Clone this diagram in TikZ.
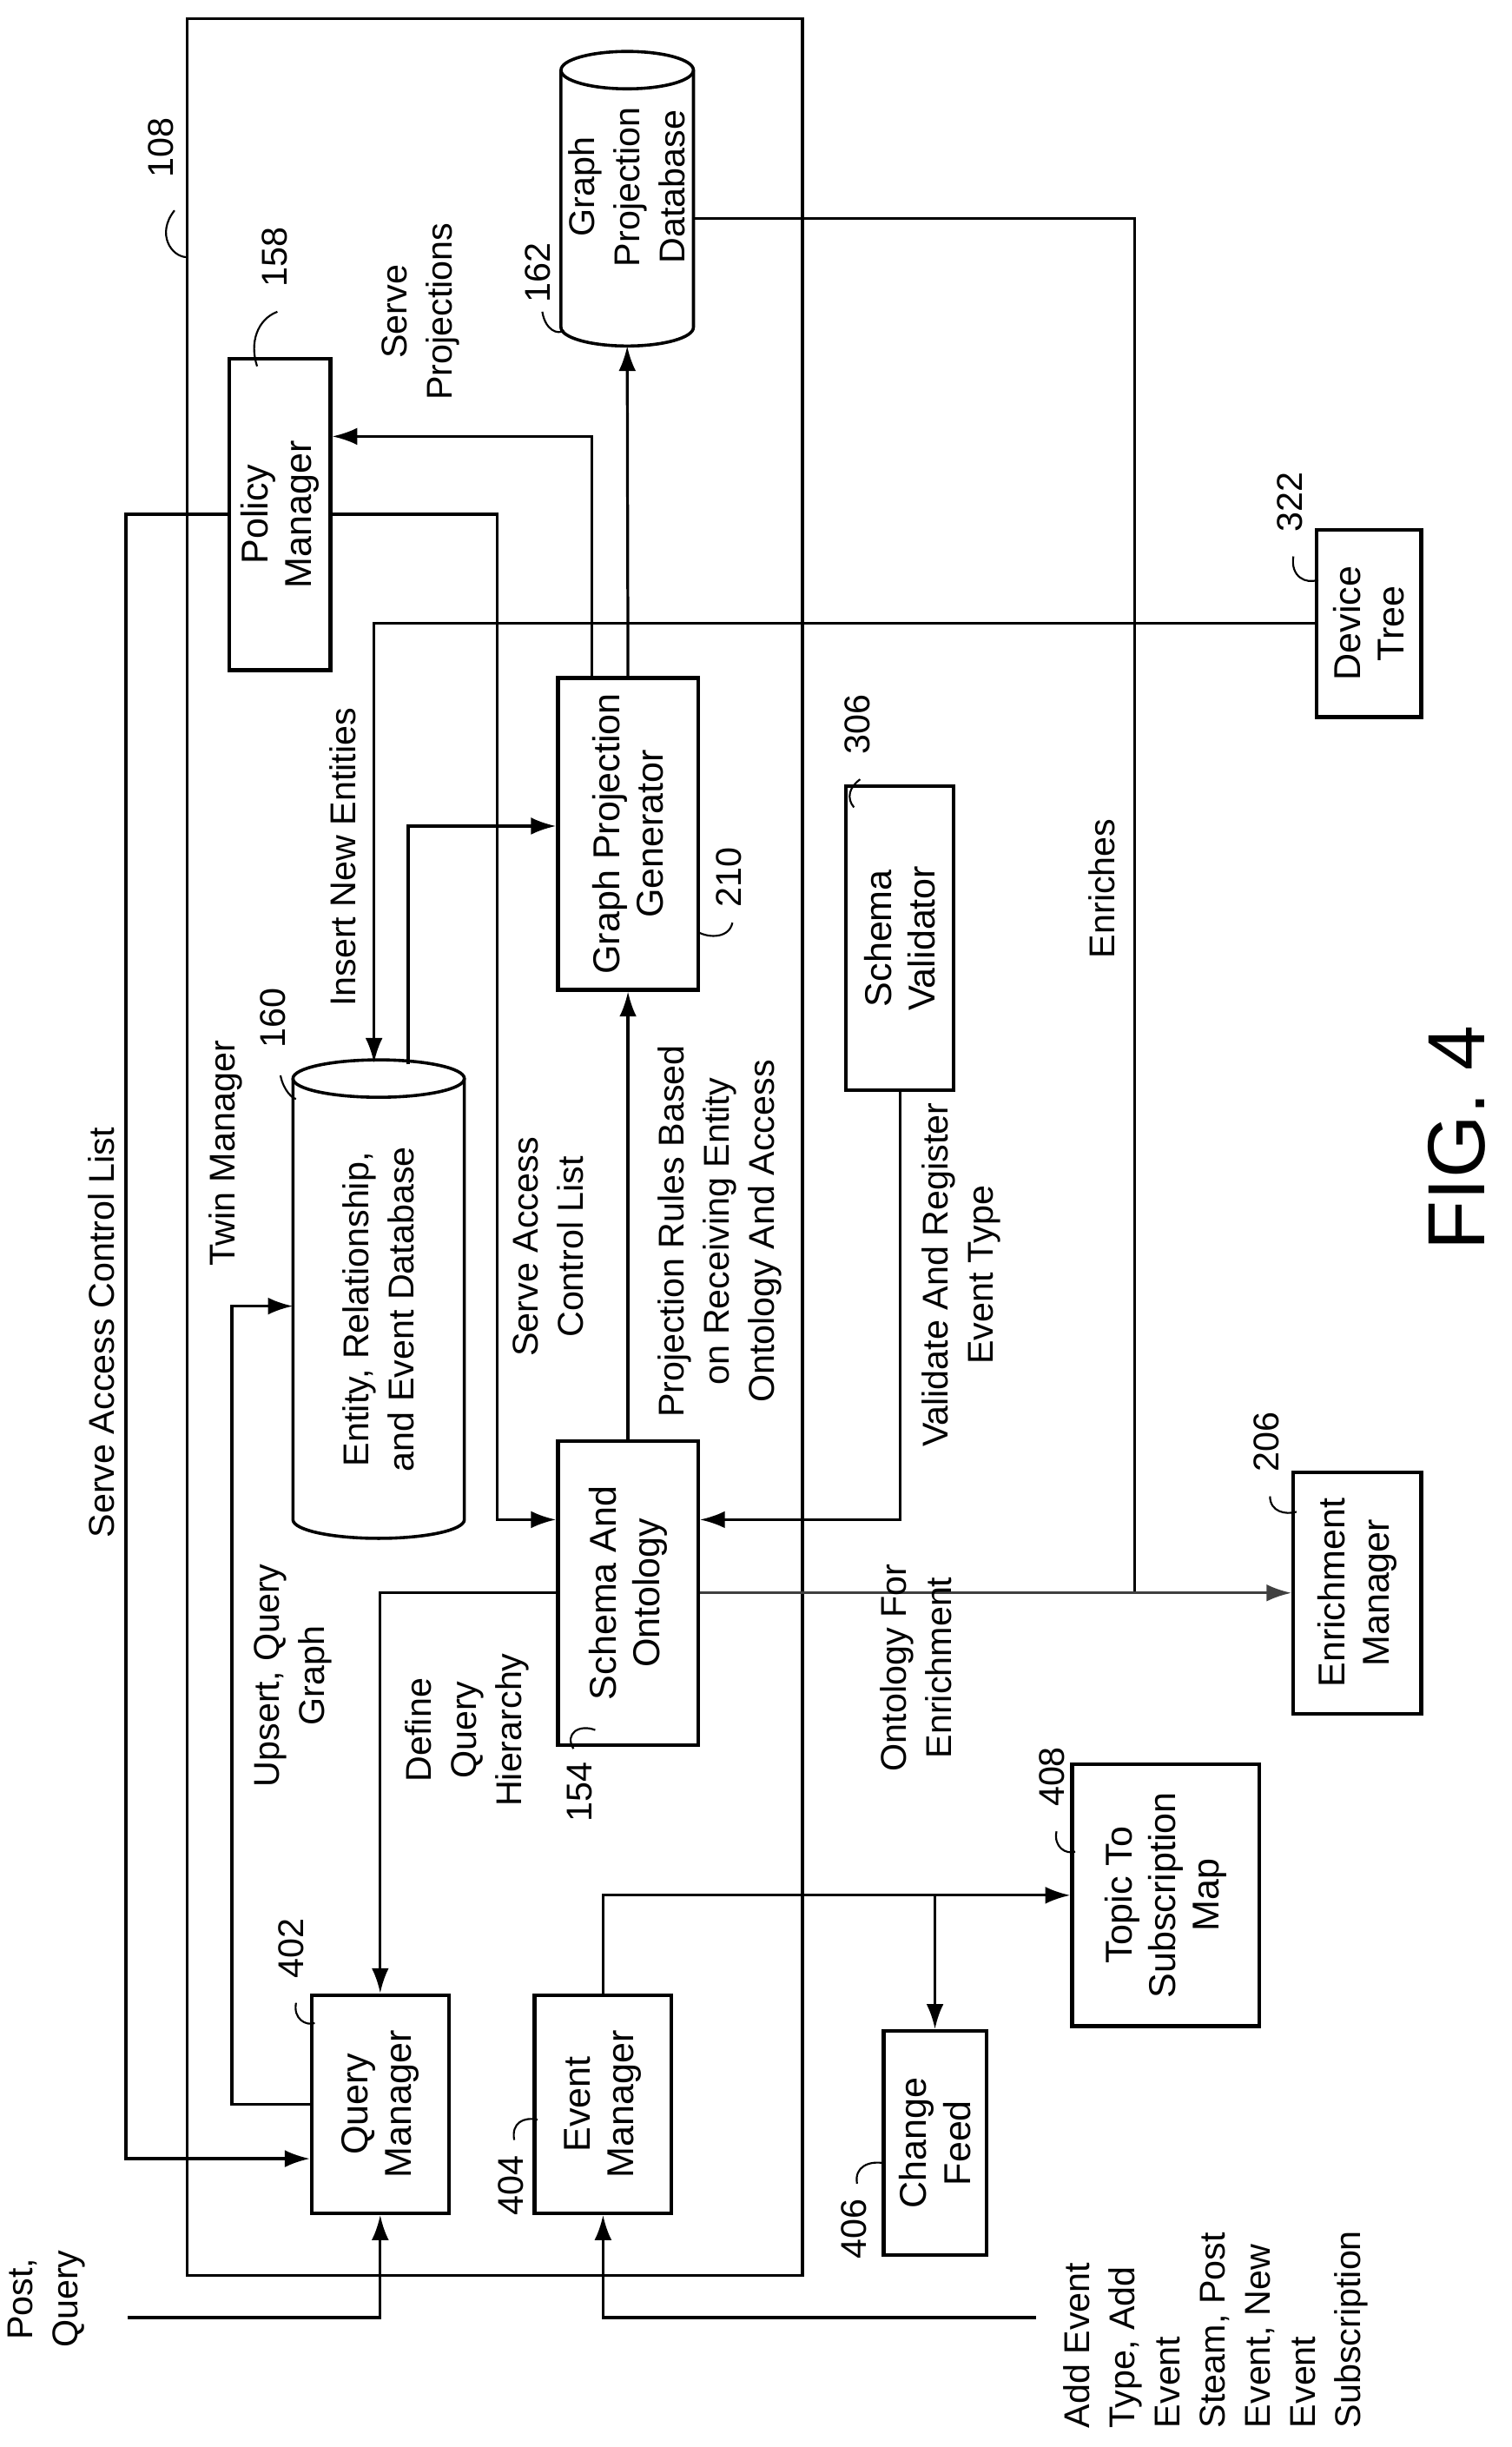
\documentclass[tikz,border=0pt]{standalone}
\usepackage{fontspec}
\setmainfont{Liberation Sans}
\usetikzlibrary{calc,arrows.meta}
\begin{document}
\begin{tikzpicture}[x=1pt,y=-1pt,
  box/.style={draw,line width=2.4pt,rotate=90,align=center,inner sep=0pt,font=\fontsize{24}{28}\selectfont},
  arr/.style={line width=1.8pt,-{Latex[length=16pt,width=11pt]}},
  ln/.style={line width=1.8pt},
  lbl/.style={rotate=90,align=center,font=\fontsize{23}{29}\selectfont,inner sep=0pt},
  sq/.style={line width=1.2pt}]
\useasboundingbox (0,0) rectangle (970,1570);
% outer box
\draw[line width=2pt] (120,12) rectangle (515,1460);
% boxes
\node[box,minimum width=200,minimum height=65] (pm) at (179.5,330) {Policy\\Manager};
\node[box,minimum width=200,minimum height=90] (gpg) at (403,535) {Graph Projection\\Generator};
\node[box,minimum width=195,minimum height=90] (so) at (403,1022) {Schema And\\Ontology};
\node[box,minimum width=195,minimum height=69] (sv) at (577.5,602) {Schema\\Validator};
\node[box,minimum width=120,minimum height=67] (dt) at (878.5,400) {Device\\Tree};
\node[box,minimum width=155,minimum height=82] (enm) at (871,1022) {Enrichment\\Manager};
\node[box,minimum width=168,minimum height=120] (tsm) at (748,1216) {Topic To\\Subscription\\Map};
\node[box,minimum width=144,minimum height=66] (cf) at (600,1375) {Change\\Feed};
\node[box,minimum width=140,minimum height=88] (qm) at (244,1350) {Query\\Manager};
\node[box,minimum width=140,minimum height=88] (evm) at (387,1350) {Event\\Manager};
% cylinders
\draw[line width=2pt] (402.5,45) ellipse [x radius=42.5,y radius=12];
\draw[line width=2pt] (360,45) -- (360,210) arc[start angle=180,end angle=0,x radius=42.5,y radius=12] -- (445,45);
\node[lbl] (gpdb) at (402.5,120) {Graph\\Projection\\Database};
\coordinate (gpdbB) at (402.5,222);
\coordinate (gpdbR) at (445,140);
\draw[line width=2pt] (243,692) ellipse [x radius=55,y radius=12];
\draw[line width=2pt] (188,692) -- (188,975) arc[start angle=180,end angle=0,x radius=55,y radius=12] -- (298,692);
\node[lbl] (edb) at (243,840) {Entity, Relationship,\\and Event Database};
\coordinate (edbT) at (240,682);
\coordinate (edbT2) at (262,683);
\coordinate (edbL) at (188,838);
% connectors
\draw[arr] (pm.north) -- ++(-65,0) |- ($(qm.north)+(0,35)$);
\draw[arr] (pm.south) -- ++(106,0) |- ($(so.north)+(0,-47)$);
\draw[arr] ($(gpg.east)+(-23,0)$) |- ($(pm.south)+(0,-50)$);
\draw[arr] (gpg.east) -- (gpdbB);
\draw[ln] (gpdbR) -| (728,1022);
\draw[arr,draw=black!75] (so.south) -- (enm.north);
\draw[arr] (dt.north) -| (edbT);
\draw[arr] (edbT2) |- ($(gpg.north)+(0,-5)$);
\draw[arr] (so.east) -- (gpg.west);
\draw[arr] (sv.west) |- ($(so.south)+(0,-47)$);
\draw[arr] (so.north) -| (qm.east);
\draw[arr] (qm.north) -- ++(-50,0) |- (edbL);
\coordinate (pq) at (82,1487);
\coordinate (ae) at (665,1487);
\draw[arr] (pq) -| (qm.west);
\draw[arr] (ae) -| (evm.west);
\draw[arr] (evm.east) |- (tsm.north);
\draw[arr] (cf.east |- tsm.north) -- (cf.east);
% labels
\node[lbl] at (65,855) {Serve Access Control List};
\node[lbl] at (352,800) {Serve Access\\Control List};
\node[lbl] at (270,200) {Serve\\Projections};
\node[lbl] at (220,550) {Insert New Entities};
\node[lbl] at (145,740) {Twin Manager};
\node[lbl] at (188,1075) {Upsert, Query\\Graph};
\node[lbl] at (300,1110) {Define\\Query\\Hierarchy};
\node[lbl] at (462,790) {Projection Rules Based\\on Receiving Entity\\Ontology And Access};
\node[lbl] at (617,818) {Validate And Register\\Event Type};
\node[lbl] at (588,1070) {Ontology For\\Enrichment};
\node[lbl] at (707,570) {Enriches};
\node[lbl] at (30,1475) {Post,\\Query};
\node[lbl,align=left,anchor=west] at (780,1558) {Add Event\\Type, Add\\Event\\Steam, Post\\Event, New\\Event\\Subscription};
\node[lbl,font=\fontsize{52}{60}\selectfont] at (935,730) {FIG. 4};
% reference numbers
\node[lbl] at (103,95) {108};
\draw[sq] (112,135) .. controls (100,150) and (110,165) .. (120,165);
\node[lbl] at (176,165) {158};
\draw[sq] (178,200) .. controls (165,205) and (160,220) .. (165,235);
\node[lbl] at (345,175) {162};
\draw[sq] (348,200) .. controls (350,212) and (358,215) .. (362,212);
\node[lbl] at (468,563) {210};
\draw[sq] (470,592) .. controls (468,602) and (455,602) .. (448,598);
\node[lbl] at (175,653) {160};
\draw[sq] (180,690) .. controls (182,700) and (188,705) .. (190,705);
\node[lbl] at (550,465) {306};
\draw[sq] (552,500) .. controls (545,505) and (543,512) .. (548,518);
\node[lbl] at (828,322) {322};
\draw[sq] (830,357) .. controls (828,370) and (838,375) .. (846,372);
\node[lbl] at (813,925) {206};
\draw[sq] (815,960) .. controls (815,970) and (825,972) .. (832,970);
\node[lbl] at (372,1150) {154};
\draw[sq] (368,1122) .. controls (362,1112) and (372,1106) .. (382,1110);
\node[lbl] at (675,1140) {408};
\draw[sq] (678,1175) .. controls (676,1185) and (684,1190) .. (690,1188);
\node[lbl] at (187,1250) {402};
\draw[sq] (190,1285) .. controls (188,1295) and (196,1300) .. (202,1298);
\node[lbl] at (328,1402) {404};
\draw[sq] (330,1373) .. controls (328,1362) and (336,1358) .. (345,1360);
\node[lbl] at (548,1430) {406};
\draw[sq] (550,1401) .. controls (548,1390) and (558,1386) .. (568,1388);
\end{tikzpicture}
\end{document}
